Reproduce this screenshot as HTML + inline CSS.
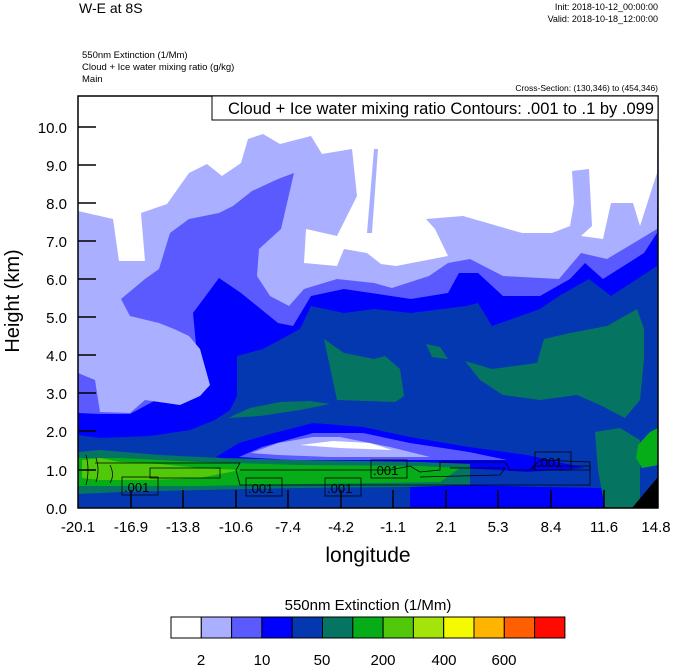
<!DOCTYPE html>
<html><head><meta charset="utf-8"><style>
html,body{margin:0;padding:0;background:#fff;}
svg{display:block;font-family:"Liberation Sans",Arial,sans-serif;}
</style></head><body>
<svg width="674" height="667" viewBox="0 0 674 667" xmlns="http://www.w3.org/2000/svg">
<defs><clipPath id="c"><rect x="78" y="96" width="580" height="412"/></clipPath></defs>
<g clip-path="url(#c)">
<rect x="78" y="96" width="580" height="412" fill="#0438b0"/>
<polygon fill="#0000ff" points="78,96 658,96 657,266 611,296 589,279 559,296 540,309 492,326 478,303 466,306 411,313 374,309 344,313 311,306 300,329 263,349 237,356 237,396 230,410 215,420 190,430 150,436 100,438 78,435"/>
<polygon fill="#5a5aff" points="78,96 658,96 657,233 644,253 603,279 585,263 570,279 540,296 503,296 478,273 459,273 448,293 411,299 344,289 311,296 293,326 278,323 241,293 219,278 193,313 200,386 174,389 156,400 130,414 100,414 78,413"/>
<polygon fill="#aab0ff" points="78,96 658,96 657,229 607,259 581,253 559,279 503,276 470,259 448,263 429,276 392,288 374,283 337,279 304,289 289,306 270,296 257,276 259,249 281,229 294,173 278,179 252,191 233,206 219,213 189,219 170,233 159,269 145,279 121,299 130,316 159,323 174,329 189,336 200,349 210,385 200,396 180,405 145,400 130,413 100,412 95,380 78,373"/>
<polygon fill="#ffffff" points="78,96 658,96 657,173 640,226 633,203 611,203 603,239 581,236 592,226 589,169 572,171 574,203 570,226 552,233 522,233 463,216 426,219 435,229 448,256 396,266 381,264 367,253 344,249 337,266 304,263 306,229 337,236 357,196 352,149 322,154 311,136 280,144 263,134 248,139 241,163 222,176 207,164 189,173 167,204 141,213 145,261 119,261 113,219 78,211"/>
<polygon fill="#aab0ff" points="367,233 374,149 378,149 372,233"/>
<polygon fill="#057562" points="324,339 344,353 374,359 385,356 400,369 404,396 395,402 337,400"/>
<polygon fill="#057562" points="426,344 440,347 448,359 432,357"/>
<polygon fill="#057562" points="465,361 492,369 537,363 544,339 570,333 607,326 637,309 644,329 644,359 640,400 625,418 600,405 577,395 540,400 503,395 480,380"/>
<polygon fill="#057562" points="228,418 250,408 280,402 310,401 330,404 300,410 260,416"/>
<polygon fill="#0000ff" points="216,457 239,443 274,433 313,423 363,427 410,437 469,447 527,455 585,468 527,472 449,467 371,467 293,465 239,463"/>
<polygon fill="#5a5aff" points="239,457 262,447 313,433 363,433 410,443 469,452 507,460 410,460 293,460"/>
<polygon fill="#aab0ff" points="251,453 278,443 313,437 340,437 390,447 430,457 330,457 278,455"/>
<polygon fill="#ffffff" points="300,445 333,441 370,443 392,450 340,448"/>
<polygon fill="#0000ff" points="410,487 470,485 540,487 600,488 624,495 624,508 410,508"/>
<polygon fill="#057562" points="78,452 100,450 160,455 220,458 300,460 420,462 470,464 470,485 400,487 300,488 200,490 120,492 78,494"/>
<polygon fill="#06ad18" points="78,458 120,458 200,462 300,465 420,466 460,468 440,482 300,484 200,486 120,486 78,486"/>
<polygon fill="#52c80a" points="82,460 100,458 120,462 160,464 200,468 240,470 200,478 150,480 100,480 82,478"/>
<polygon fill="#057562" points="595,432 620,428 640,440 640,508 605,508 598,470"/>
<polygon fill="#06ad18" points="638,445 650,432 658,428 658,465 642,468 636,458"/>
<polygon fill="#000" points="632,508 658,477 658,508"/>
<g fill="none" stroke="#000" stroke-width="0.8">
<path d="M95,463 L240,463 L236,470 L240,485 L590,485 L590,462 L540,460 L530,470 L510,470 L505,462 L440,462 L440,470 L420,472 L410,466 L390,470 L240,470"/>
<path d="M420,477 L500,475 L505,468 L450,468"/>
<path d="M86,455 Q90,470 86,485 M96,458 Q100,470 96,482 M110,465 Q115,475 110,483 M150,468 L220,468 L220,478 L150,478 Z"/>
<path d="M533,466 L590,466 L590,470 L533,470 Z"/>
</g>
<g font-size="13" fill="#000">
<rect x="122" y="477" width="36" height="18" fill="none" stroke="#000" stroke-width="0.8"/><text x="124" y="492">.001</text>
<rect x="246" y="478" width="36" height="18" fill="none" stroke="#000" stroke-width="0.8"/><text x="248" y="493">.001</text>
<rect x="325" y="478" width="36" height="18" fill="none" stroke="#000" stroke-width="0.8"/><text x="327" y="493">.001</text>
<rect x="371" y="460" width="36" height="18" fill="none" stroke="#000" stroke-width="0.8"/><text x="373" y="475">.001</text>
<rect x="535" y="452" width="36" height="18" fill="none" stroke="#000" stroke-width="0.8"/><text x="537" y="467">.001</text>
</g>
</g>
<rect x="78" y="96" width="580" height="412" fill="none" stroke="#000" stroke-width="1.5"/>
<rect x="212" y="96" width="446" height="24" fill="#fff" stroke="#000" stroke-width="1"/>
<text x="654" y="114" font-size="16.5" text-anchor="end">Cloud + Ice water mixing ratio Contours: .001 to .1 by .099</text>
<g stroke="#000" stroke-width="1.5">
<line x1="78" y1="127" x2="96" y2="127"/><line x1="78" y1="165" x2="96" y2="165"/><line x1="78" y1="203" x2="96" y2="203"/><line x1="78" y1="241" x2="96" y2="241"/><line x1="78" y1="279" x2="96" y2="279"/><line x1="78" y1="317" x2="96" y2="317"/><line x1="78" y1="355" x2="96" y2="355"/><line x1="78" y1="393" x2="96" y2="393"/><line x1="78" y1="431" x2="96" y2="431"/><line x1="78" y1="470" x2="96" y2="470"/>
<line x1="131" y1="490" x2="131" y2="508"/><line x1="183" y1="490" x2="183" y2="508"/><line x1="236" y1="490" x2="236" y2="508"/><line x1="288" y1="490" x2="288" y2="508"/><line x1="341" y1="490" x2="341" y2="508"/><line x1="393" y1="490" x2="393" y2="508"/><line x1="446" y1="490" x2="446" y2="508"/><line x1="498" y1="490" x2="498" y2="508"/><line x1="551" y1="490" x2="551" y2="508"/><line x1="604" y1="490" x2="604" y2="508"/>
</g>
<g font-size="15" text-anchor="end">
<text x="67" y="133">10.0</text><text x="67" y="171">9.0</text><text x="67" y="209">8.0</text><text x="67" y="247">7.0</text><text x="67" y="285">6.0</text><text x="67" y="323">5.0</text><text x="67" y="361">4.0</text><text x="67" y="399">3.0</text><text x="67" y="437">2.0</text><text x="67" y="476">1.0</text><text x="67" y="514">0.0</text>
</g>
<g font-size="15" text-anchor="middle">
<text x="78" y="532">-20.1</text><text x="131" y="532">-16.9</text><text x="183" y="532">-13.8</text><text x="236" y="532">-10.6</text><text x="288" y="532">-7.4</text><text x="341" y="532">-4.2</text><text x="393" y="532">-1.1</text><text x="446" y="532">2.1</text><text x="498" y="532">5.3</text><text x="551" y="532">8.4</text><text x="604" y="532">11.6</text><text x="656" y="532">14.8</text>
</g>
<text x="368" y="562" font-size="21" text-anchor="middle">longitude</text>
<text transform="translate(19,301) rotate(-90)" font-size="20" text-anchor="middle">Height (km)</text>
<text x="79" y="13" font-size="14">W-E at 8S</text>
<text x="658" y="10" font-size="9" text-anchor="end">Init: 2018-10-12_00:00:00</text>
<text x="658" y="22" font-size="9" text-anchor="end">Valid: 2018-10-18_12:00:00</text>
<text x="82" y="58" font-size="9.5">550nm Extinction   (1/Mm)</text>
<text x="82" y="70" font-size="9.5">Cloud + Ice water mixing ratio   (g/kg)</text>
<text x="82" y="82" font-size="9.5">Main</text>
<text x="658" y="91" font-size="8.5" text-anchor="end">Cross-Section: (130,346) to (454,346)</text>
<text x="368" y="610" font-size="15" text-anchor="middle">550nm Extinction  (1/Mm)</text>
<g stroke="#000" stroke-width="1">
<rect x="171" y="617" width="30.3" height="21" fill="#ffffff"/>
<rect x="201.3" y="617" width="30.3" height="21" fill="#aab0ff"/>
<rect x="231.6" y="617" width="30.3" height="21" fill="#5a5aff"/>
<rect x="261.9" y="617" width="30.3" height="21" fill="#0000ff"/>
<rect x="292.2" y="617" width="30.3" height="21" fill="#0438b0"/>
<rect x="322.5" y="617" width="30.3" height="21" fill="#057562"/>
<rect x="352.8" y="617" width="30.3" height="21" fill="#06ad18"/>
<rect x="383.1" y="617" width="30.3" height="21" fill="#52c80a"/>
<rect x="413.4" y="617" width="30.3" height="21" fill="#a5e40a"/>
<rect x="443.7" y="617" width="30.3" height="21" fill="#f5fa00"/>
<rect x="474" y="617" width="30.3" height="21" fill="#ffb400"/>
<rect x="504.3" y="617" width="30.3" height="21" fill="#ff5f00"/>
<rect x="534.6" y="617" width="30.3" height="21" fill="#ff0a00"/>
</g>
<g font-size="15" text-anchor="middle">
<text x="201" y="665">2</text><text x="262" y="665">10</text><text x="322" y="665">50</text><text x="383" y="665">200</text><text x="444" y="665">400</text><text x="504" y="665">600</text>
</g>
</svg>
</body></html>
